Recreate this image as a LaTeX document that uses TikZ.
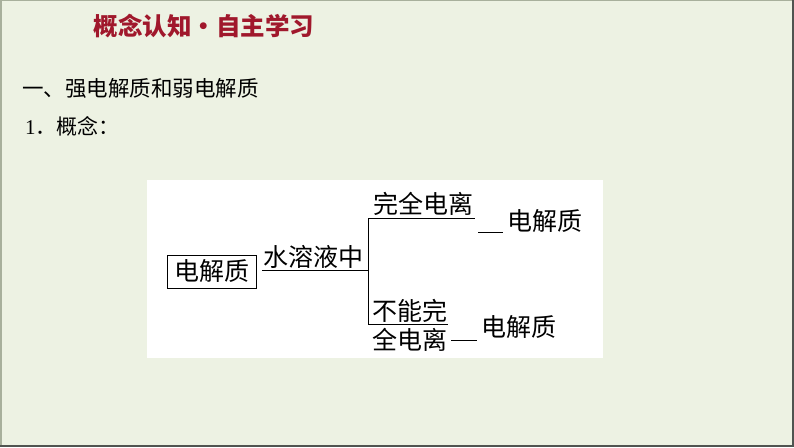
\documentclass[tikz,border=0pt]{standalone}
\usepackage{fontspec}
\newfontfamily\cjk{Noto Sans CJK SC}
\setmainfont{Liberation Serif}
\definecolor{bgc}{HTML}{EDF2E3}
\definecolor{titlered}{HTML}{A0182C}
\definecolor{edgedark}{HTML}{505450}
\definecolor{edgelight}{HTML}{A8B09C}
\tikzset{
  txt/.style={inner sep=0pt, outer sep=0pt, font=\cjk\fontsize{25}{25}\selectfont},
  ln/.style={draw=black, line width=0.9pt},
  boxed/.style={txt, draw=black, line width=0.9pt, minimum width=89pt, minimum height=33pt}
}
\begin{document}
\begin{tikzpicture}[x=1pt,y=-1pt]
\useasboundingbox (0,0) rectangle (794,447);
\fill[bgc] (0,0) rectangle (794,447);
% frame edges
\draw[edgelight, line width=1.2pt] (0,0.6) -- (794,0.6);
\draw[edgelight, line width=1.5pt] (0.8,0) -- (0.8,447);
\draw[edgedark, line width=2pt] (793,0) -- (793,447);
\draw[edgedark, line width=2pt] (0,446) -- (794,446);
% headings
\node[inner sep=0pt, text=titlered, font=\cjk\bfseries\fontsize{24.5}{24.5}\selectfont] (title) at (204,26) {概念认知・自主学习};
\node[inner sep=0pt, anchor=west, font=\cjk\fontsize{21.5}{21.5}\selectfont] (h1) at (22,88) {一、强电解质和弱电解质};
\node[inner sep=0pt, anchor=west, font=\cjk\fontsize{21}{21}\selectfont] (h2) at (25,126) {{\rmfamily 1}．概念：};
% white panel
\fill[white] (147,180) rectangle (603,358);
% diagram
\node[boxed] (e1) at (211.5,271.5) {电解质};
\coordinate (a1) at (262,270);
\coordinate (vm) at (368,270);
\coordinate (vt) at (368,218);
\coordinate (vb) at (368,324);
\coordinate (t1) at (475,218);
\coordinate (b1) at (448,324);
\coordinate (d1) at (478,232);
\coordinate (d2) at (503,232);
\coordinate (d3) at (451,340);
\coordinate (d4) at (477,340);
\node[txt] (sw) at (313.5,256.5) {水溶液中};
\node[txt] (wq) at (423.5,203.5) {完全电离};
\node[txt] (bn) at (410,311) {不能完};
\node[txt] (qd) at (410,340) {全电离};
\node[txt] (r1) at (545,221) {电解质};
\node[txt] (r2) at (519,327) {电解质};
\draw[ln] (a1) -- (vm);
\draw[ln] (vt) -- (vb);
\draw[ln] (vt) -- (t1);
\draw[ln] (vb) -- (b1);
\draw[ln] (d1) -- (d2);
\draw[ln] (d3) -- (d4);
\end{tikzpicture}
\end{document}
